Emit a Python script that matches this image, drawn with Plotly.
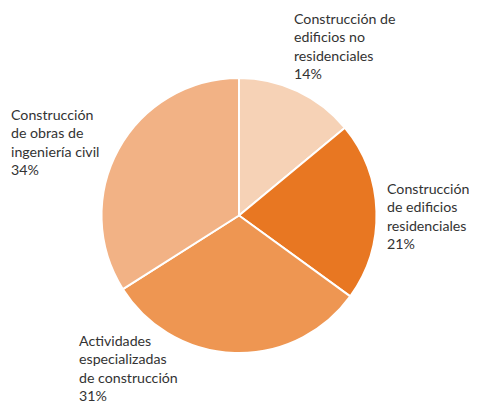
import plotly.graph_objects as go

labels = ["Construcción de<br>edificios no<br>residenciales",
          "Construcción<br>de edificios<br>residenciales",
          "Actividades<br>especializadas<br>de construcción",
          "Construcción<br>de obras de<br>ingeniería civil"]
values = [14, 21, 31, 34]
colors = ["#F6D2B6", "#E87722", "#EE9652", "#F2B285"]
# label anchor positions (window pixels, top-left)
label_pos = [(293, 9), (386, 179), (78, 331), (10, 105)]

OFF = 8  # page body margin
W, H = 477 - OFF, 408 - OFF


def fx(px):
    return (px - OFF) / W


def fy(py):
    return 1 - (py - OFF) / H


fig = go.Figure(go.Pie(
    labels=labels, values=values, sort=False, direction="clockwise", rotation=0,
    marker=dict(colors=colors, line=dict(color="white", width=2)),
    textinfo="none", hoverinfo="label+percent", showlegend=False,
    domain=dict(x=[fx(101), fx(377)], y=[fy(353), fy(78)]),
))

for lab, v, (px, py) in zip(labels, values, label_pos):
    fig.add_annotation(
        x=fx(px), y=fy(py), xref="paper", yref="paper",
        xanchor="left", yanchor="top", align="left", showarrow=False,
        text=f"{lab}<br>{v}%", borderpad=0,
        font=dict(family="Lato", size=14.2, color="#333333"),
    )

fig.update_layout(width=W, height=H, margin=dict(l=0, r=0, t=0, b=0),
                  paper_bgcolor="white", plot_bgcolor="white")
fig.write_html("out.html")
